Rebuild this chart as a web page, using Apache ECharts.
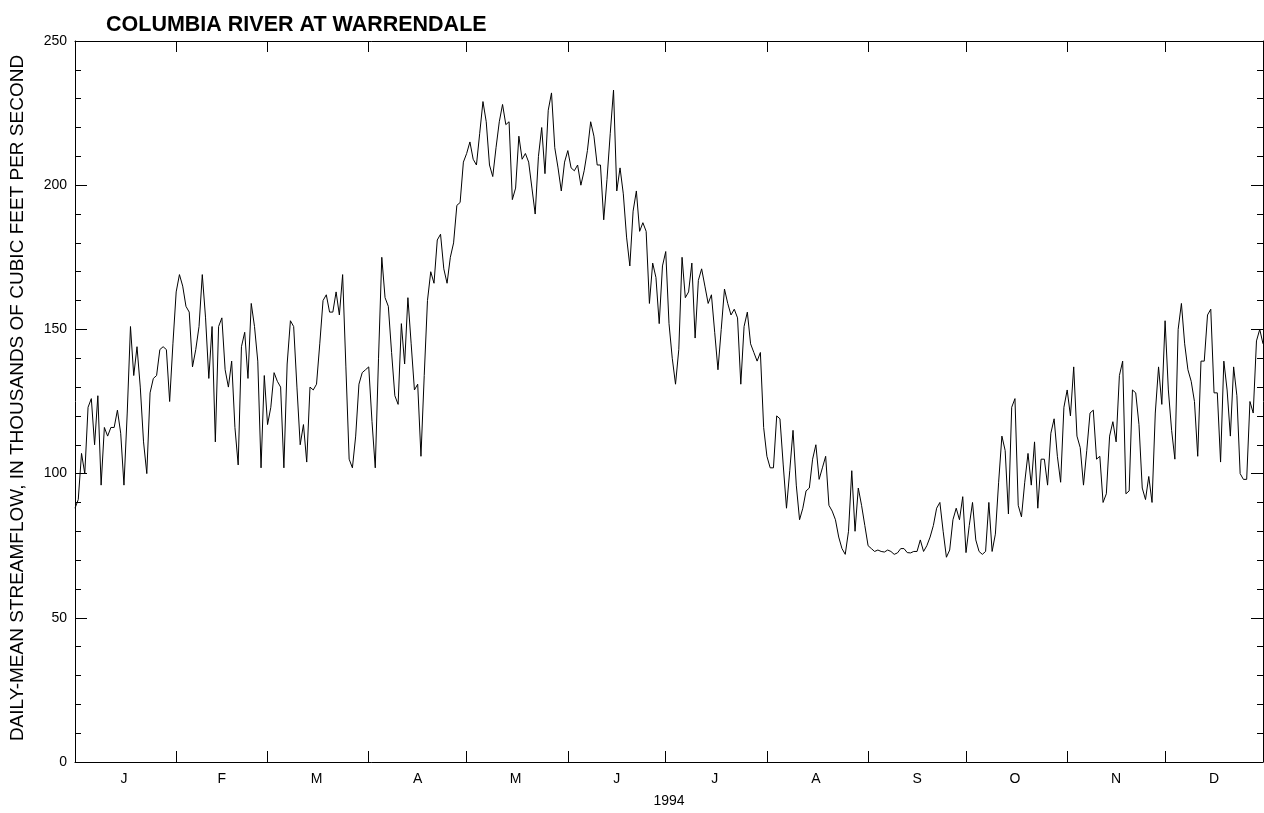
<!DOCTYPE html>
<html>
<head>
<meta charset="utf-8">
<script src="https://cdn.jsdelivr.net/npm/echarts@6/dist/echarts.min.js"></script>
<style>
html,body{margin:0;padding:0;background:#fff;}
#chart{width:1264px;height:813px;}
</style>
</head>
<body>
<div id="chart"></div>
<script>
// Daily-mean streamflow, thousands of cfs, 1994
const jan = [88,91,107,100,123,126,110,127,96,116,113,116,116,122,114,96,121,151,134,144,130,111,100,128,133,134,143,144,143,125,145];
const feb = [163,169,165,158,156,137,143,151,169,154,133,151,111,151,154,136,130,139,116,103,144,149,133,159,151,139,102,134];
const mar = [117,123,135,132,130,102,138,153,151,130,110,117,104,130,129,131,145,160,162,156,156,163,155,169,137,105,102,113,131,135,136];
const apr = [137,118,102,140,175,161,158,142,127,124,152,138,161,145,129,131,106,134,160,170,166,181,183,171,166,175,180,193,194,208];
const may = [211,215,209,207,218,229,222,207,203,213,222,228,221,222,195,199,217,209,211,208,199,190,210,220,204,226,232,213,206,198,208];
const jun = [212,206,205,207,200,205,212,222,217,207,207,188,202,218,233,198,206,197,182,172,191,198,184,187,184,159,173,168,152,172];
const jul = [177,152,140,131,143,175,161,163,173,147,167,171,165,159,162,149,136,150,164,159,155,157,154,131,151,156,145,142,139,142,116];
const aug = [106,102,102,120,119,103,88,101,115,96,84,88,94,95,105,110,98,102,106,89,87,84,78,74,72,80,101,80,95,89,82];
const sep = [75,74,73,73.5,73,72.8,73.5,73,72,72.5,74,74,72.6,72.5,73,73,77,73,75,78,82,88,90,80,71,73.5,84,88,84,92];
const oct = [72.6,82,90,77,73,72,73,90,73,79,97,113,108,86,123,126,89,85,97,107,96,111,88,105,105,96,114,119,106,97,123];
const nov = [129,120,137,113,109,96,108,121,122,105,106,90,93,113,118,111,134,139,93,94,129,128,117,95,91,99,90,121,137,124];
const dec = [153,129,115,105,150,159,145,136,132,125,106,139,139,155,157,128,128,104,139,129,113,137,127,100,98,98,125,121,146,150,145];

const monthLetters = ['J','F','M','A','M','J','J','A','S','O','N','D'];
const monthArrays = [jan,feb,mar,apr,may,jun,jul,aug,sep,oct,nov,dec];
const yTicks = [0,50,100,150,200,250];

const flow = [].concat(...monthArrays);
const days = flow.map((_, i) => i);
const monthStarts = [];
const monthMids = [];
let acc = 0;
monthArrays.forEach(m => { monthStarts.push(acc); monthMids.push(acc + Math.floor(m.length / 2)); acc += m.length; });

const FONT = 'Liberation Sans, Arial, Helvetica, sans-serif';
const chart = echarts.init(document.getElementById('chart'), null, {renderer: 'canvas'});

const xBase = {
  type: 'category',
  data: days,
  boundaryGap: false,
  axisLine: {show: true, onZero: false, lineStyle: {color: '#000', width: 1}},
  axisTick: {show: true, inside: true, length: 11, interval: (i) => i > 0 && monthStarts.indexOf(i) >= 0, lineStyle: {color: '#000', width: 1}},
  splitLine: {show: false}
};
const yBase = {
  type: 'value',
  min: yTicks[0],
  max: yTicks[yTicks.length - 1],
  interval: 50,
  axisLine: {show: true, onZero: false, lineStyle: {color: '#000', width: 1}},
  axisTick: {show: true, inside: true, length: 12, lineStyle: {color: '#000', width: 1}},
  minorTick: {show: true, splitNumber: 5, length: 6, lineStyle: {color: '#000', width: 1}},
  splitLine: {show: false},
  minorSplitLine: {show: false}
};

chart.setOption({
  animation: false,
  backgroundColor: '#fff',
  title: {
    text: 'COLUMBIA RIVER AT WARRENDALE',
    left: 101, top: 9,
    textStyle: {fontFamily: FONT, fontWeight: 'bold', fontSize: 21.5, color: '#000'}
  },
  grid: {left: 73, right: 1, top: 41, bottom: 51, containLabel: false},
  xAxis: [
    Object.assign({}, xBase, {
      position: 'bottom',
      axisLabel: {
        show: true,
        interval: (i) => monthMids.indexOf(i) >= 0,
        formatter: (v, i) => monthLetters[monthMids.indexOf(Number(v))] || '',
        color: '#000', fontFamily: FONT, fontSize: 14, margin: 10
      },
      name: '1994', nameLocation: 'middle', nameGap: 32,
      nameTextStyle: {color: '#000', fontFamily: FONT, fontSize: 14}
    }),
    Object.assign({}, xBase, {position: 'top', axisLabel: {show: false}})
  ],
  yAxis: [
    Object.assign({}, yBase, {
      position: 'left',
      axisLabel: {show: true, color: '#000', fontFamily: FONT, fontSize: 14, margin: 8},
      name: 'DAILY-MEAN STREAMFLOW, IN THOUSANDS OF CUBIC FEET PER SECOND',
      nameLocation: 'middle', nameRotate: 90, nameGap: 48,
      nameTextStyle: {color: '#000', fontFamily: FONT, fontSize: 19, padding: [0, 0, 0, 7]}
    }),
    Object.assign({}, yBase, {position: 'right', axisLabel: {show: false}})
  ],
  series: [{
    type: 'line',
    xAxisIndex: 0, yAxisIndex: 0,
    data: flow,
    showSymbol: false,
    symbol: 'none',
    lineStyle: {color: '#000', width: 1},
    emphasis: {disabled: true}
  }]
});
</script>
</body>
</html>
